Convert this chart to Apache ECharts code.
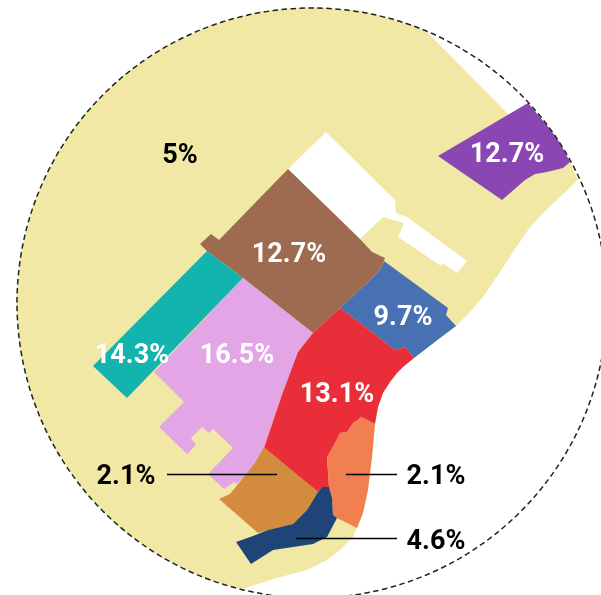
<!DOCTYPE html>
<html>
<head>
<meta charset="utf-8">
<style>
    html, body { margin: 0; padding: 0; background: #fff; }
    #chart { width: 601px; height: 595px; }
</style>
<script src="https://cdn.jsdelivr.net/npm/echarts@6/dist/echarts.min.js"></script>
</head>
<body>
<div id="chart"></div>
<script>
// values, one per district
const names = ['surroundings', 'north', 'centre', 'strip', 'west', 'east', 'middle', 'south', 'shore', 'channel'];
const values = [5, 12.7, 12.7, 14.3, 16.5, 9.7, 13.1, 2.1, 2.1, 4.6];
const colors = ['#f1e8a5', '#8a46b2', '#9e6b50', '#13b3ae', '#e2a6e6', '#4771b3', '#e92e3a', '#d38c3e', '#f17f4f', '#1f4477'];
const labelColors = ['#000', '#fff', '#fff', '#fff', '#fff', '#fff', '#fff', '#000', '#000', '#000'];

// outlines, in pixels
const surroundingsRing = [[427, 32], [507, 113], [528, 125], [570, 162], [578, 180], [543, 213], [528, 230], [513, 252], [500, 272], [483, 297], [470, 312], [456, 326], [440, 338], [427, 348], [414, 358], [403, 367], [397, 373], [390, 382], [383, 393], [378, 407], [375, 423], [372, 457], [368, 490], [363, 513], [357, 528], [353, 537], [340, 550], [327, 560], [307, 570], [277, 578], [242, 589], [211, 581], [164, 559], [122, 530], [85, 493], [56, 451], [34, 404], [20.5, 354], [16, 303], [20.5, 252], [34, 202], [56, 155], [85, 113], [122, 76], [164, 47], [211, 25], [261, 11], [312, 7], [363, 11], [413, 25]];
const surroundingsHole = [[326, 132], [288, 169], [360, 239], [383, 217], [404, 223], [398, 237], [441, 266], [442, 263], [457, 273], [467, 261], [407, 217], [396, 213], [395, 200]];
const northRing = [[528, 103], [550, 129], [560, 143], [570, 162], [563, 168], [547, 172], [535, 174], [525, 180], [502, 200], [438, 156]];
const centreRing = [[288, 169], [360, 239], [372, 252], [385, 258], [380, 270], [367, 283], [340, 308], [313, 333], [243, 278], [207, 251], [200, 244], [211, 234], [219, 240]];
const stripRing = [[207, 251], [243, 278], [127, 398], [93, 366]];
const westRing = [[243, 278], [313, 333], [298, 352], [283, 392], [264, 448], [250, 472], [243, 478], [237, 484], [234, 482], [224, 489], [208, 474], [233, 448], [213, 429], [209, 433], [202, 427], [191, 438], [196, 445], [187, 454], [159, 427], [184, 402], [154, 372]];
const eastRing = [[340, 308], [367, 283], [380, 270], [384, 261], [448, 308], [446, 315], [456, 326], [440, 338], [427, 348], [414, 358], [405, 347], [395, 350], [360, 323]];
const middleRing = [[340, 308], [360, 323], [395, 350], [405, 347], [414, 358], [403, 367], [397, 373], [390, 382], [383, 393], [378, 407], [375, 424], [361, 417], [357, 421], [354, 422], [347, 432], [340, 433], [334, 445], [327, 457], [329, 487], [322, 487], [318, 492], [264, 448], [283, 392], [298, 352], [313, 333]];
const southRing = [[264, 447], [318, 492], [307, 510], [293, 524], [268, 530], [258, 533], [219, 499], [230, 494], [243, 478], [255, 463]];
const shoreRing = [[361, 417], [375, 424], [372, 457], [368, 490], [363, 513], [357, 528], [337, 518], [333, 515], [332, 498], [329, 487], [327, 457], [334, 445], [340, 433], [347, 432], [354, 422], [357, 421]];
const channelRing = [[329, 487], [322, 487], [318, 492], [307, 510], [293, 524], [268, 530], [253, 536], [236, 542], [251, 564], [273, 550], [313, 544], [327, 537], [337, 518], [333, 515], [332, 498]];

const rings = [[surroundingsRing, surroundingsHole], [northRing], [centreRing], [stripRing], [westRing], [eastRing], [middleRing], [southRing], [shoreRing], [channelRing]];
// where each percentage sits
const labelSpots = [[180, 156], [507, 155], [289, 255], [132, 356], [237, 356], [403, 318], [337, 395], [126, 477], [436, 477], [436, 542]];
const leaderLines = [
    [[167, 474], [277, 474]],
    [[346, 474], [397, 474]],
    [[296, 538], [397, 538]],
];

const WIDTH = 601;
const HEIGHT = 595;
const pixelProjection = {
    project: (p) => p,
    unproject: (p) => p,
};
const frame = {
    projection: pixelProjection,
    boundingCoords: [[0, 0], [WIDTH, HEIGHT]],
    aspectScale: 1,
    left: 0,
    top: 0,
    width: WIDTH,
    height: HEIGHT,
};

echarts.registerMap('districts', {
    type: 'FeatureCollection',
    features: names.map((name, i) => ({
        type: 'Feature',
        properties: { name: name, cp: labelSpots[i] },
        geometry: { type: 'Polygon', coordinates: rings[i] },
    })),
});

const chart = echarts.init(document.getElementById('chart'));
chart.setOption({
    animation: false,
    backgroundColor: '#fff',
    // not drawn, only gives the leader lines the same scale as the map
    geo: Object.assign({ map: 'districts', show: false, silent: true }, frame),
    series: [
        Object.assign({
            type: 'map',
            map: 'districts',
            silent: true,
            label: {
                show: true,
                fontFamily: 'Roboto',
                fontWeight: 'bold',
                fontSize: 27,
                formatter: (p) => p.value + '%',
            },
            itemStyle: { borderWidth: 0 },
            data: names.map((name, i) => ({
                name: name,
                value: values[i],
                itemStyle: { areaColor: colors[i] },
                label: { color: labelColors[i] },
            })),
        }, frame),
        {
            type: 'lines',
            coordinateSystem: 'geo',
            geoIndex: 0,
            silent: true,
            lineStyle: { color: '#000', width: 1.4, opacity: 1, curveness: 0 },
            data: leaderLines.map((coords) => ({ coords: coords })),
        },
    ],
    graphic: [
        {
            type: 'circle',
            silent: true,
            z: 100,
            shape: { cx: 312, cy: 303, r: 295 },
            style: { fill: null, stroke: '#222', lineWidth: 1.5, lineDash: [5.5, 3.5] },
        },
    ],
});
</script>
</body>
</html>
